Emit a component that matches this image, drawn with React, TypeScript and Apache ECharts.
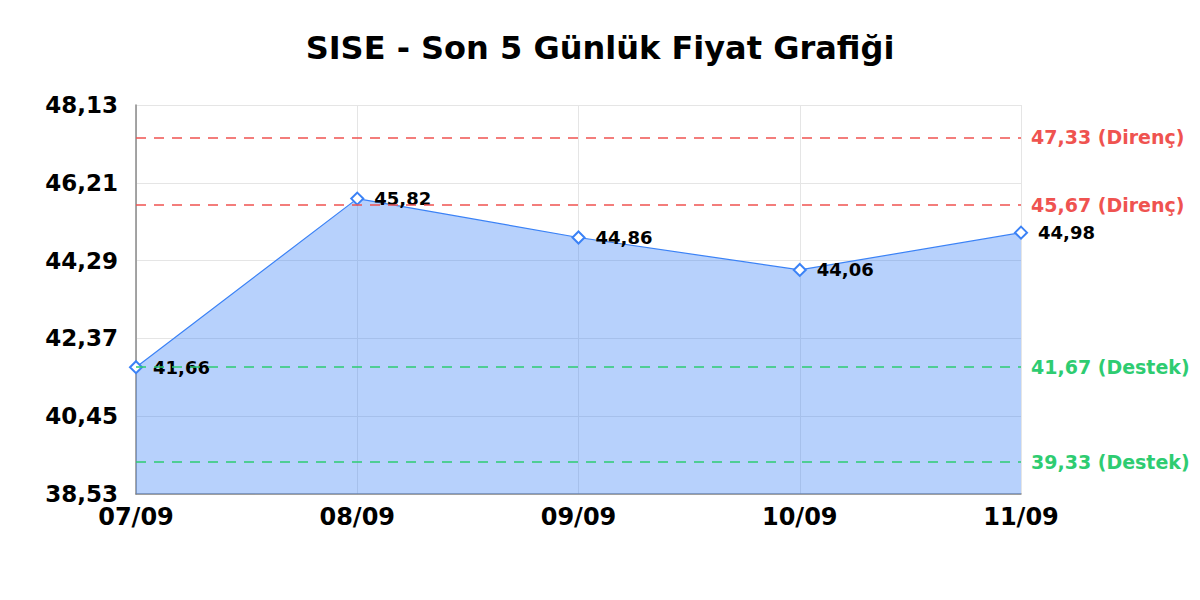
import { useEffect, useRef } from 'react';
import * as echarts from 'echarts';

const dates = ['07/09', '08/09', '09/09', '10/09', '11/09'];
const prices = [41.66, 45.82, 44.86, 44.06, 44.98];
const resistance = [47.33, 45.67];
const support = [41.67, 39.33];
const yTicks = [38.53, 40.45, 42.37, 44.29, 46.21, 48.13];

const fmt = (v: number) => v.toFixed(2).replace('.', ',');

export default function App() {
  const chartRef = useRef<HTMLDivElement>(null);

  useEffect(() => {
    if (!chartRef.current) return;
    document.body.style.margin = '0';
    const chart = echarts.init(chartRef.current, null, { renderer: 'svg' });

    const font = 'DejaVu Sans';
    const levelLine = (value: number, color: string, tag: string) => ({
      yAxis: value,
      lineStyle: { color, type: [10, 8], width: 1.5 },
      label: {
        show: true,
        position: 'end',
        formatter: `${fmt(value)} (${tag})`,
        color,
        fontFamily: font,
        fontWeight: 'bold',
        fontSize: 19,
        distance: 10
      }
    });

    chart.setOption({
      animation: false,
      backgroundColor: '#ffffff',
      textStyle: { fontFamily: font },
      title: {
        text: 'SISE - Son 5 Günlük Fiyat Grafiği',
        left: 'center',
        top: 27,
        textStyle: { fontFamily: font, fontWeight: 'bold', fontSize: 32, color: '#000' }
      },
      grid: { left: 136, right: 179, top: 105, bottom: 106, containLabel: false },
      xAxis: {
        type: 'category',
        data: dates,
        boundaryGap: false,
        axisLine: { lineStyle: { color: '#888', width: 1.5 } },
        axisTick: { show: false },
        axisLabel: { color: '#000', fontWeight: 'bold', fontSize: 24, margin: 11, fontFamily: font },
        splitLine: { show: true, lineStyle: { color: '#e5e5e5' } }
      },
      yAxis: {
        type: 'value',
        min: yTicks[0],
        max: yTicks[yTicks.length - 1],
        axisLine: { show: true, lineStyle: { color: '#888', width: 1.5 } },
        axisTick: { show: false, customValues: yTicks },
        axisLabel: {
          customValues: yTicks,
          color: '#000',
          fontWeight: 'bold',
          fontSize: 23,
          margin: 18,
          fontFamily: font,
          formatter: (v: number) => fmt(v)
        },
        splitLine: { show: true, lineStyle: { color: '#e5e5e5' } }
      },
      series: [
        {
          type: 'line',
          data: prices,
          symbol: 'diamond',
          symbolSize: 12,
          itemStyle: { color: '#ffffff', borderColor: '#3b82f6', borderWidth: 2 },
          lineStyle: { color: '#3b82f6', width: 1.2 },
          areaStyle: { color: '#3b82f6', opacity: 0.37 },
          label: {
            show: true,
            position: 'right',
            distance: 10,
            color: '#000',
            fontWeight: 'bold',
            fontSize: 18,
            fontFamily: font,
            formatter: (p: any) => fmt(p.value)
          },
          markLine: {
            silent: true,
            symbol: 'none',
            data: [
              ...resistance.map(v => levelLine(v, '#ef5350', 'Direnç')),
              ...support.map(v => levelLine(v, '#2ecc71', 'Destek'))
            ]
          }
        }
      ]
    });

    return () => chart.dispose();
  }, []);

  return <div ref={chartRef} style={{ width: 1200, height: 600 }} />;
}
